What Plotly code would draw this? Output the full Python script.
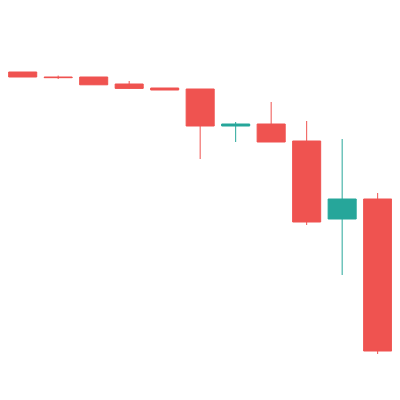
import plotly.graph_objects as go

days = list(range(11))
open_ = [82.0, 80.75, 80.75, 79.0, 78.0, 77.75, 68.5, 69.0, 64.75, 45.25, 50.25]
high = [82.0, 81.1, 80.75, 79.75, 78.0, 77.75, 69.5, 74.5, 69.75, 65.25, 51.75]
low = [80.75, 80.25, 78.75, 77.75, 77.5, 60.25, 64.5, 64.5, 43.75, 31.25, 11.5]
close = [80.75, 80.6, 78.8, 77.9, 77.5, 68.5, 69.0, 64.5, 44.5, 50.25, 12.25]

fig = go.Figure()
fig.add_trace(go.Candlestick(
    x=days, open=open_, high=high, low=low, close=close,
    increasing=dict(line=dict(color='#26A69A', width=1), fillcolor='#26A69A'),
    decreasing=dict(line=dict(color='#EF5350', width=1), fillcolor='#EF5350'),
    showlegend=False))

fig.update_layout(
    width=400, height=400,
    margin=dict(l=0, r=0, t=0, b=0),
    paper_bgcolor='white', plot_bgcolor='white',
    boxgap=0, boxgroupgap=0.21,
    xaxis=dict(visible=False, range=[-0.414, 10.855], rangeslider=dict(visible=False)),
    yaxis=dict(visible=False, range=[-2, 98]),
)

fig.write_html("out.html")
